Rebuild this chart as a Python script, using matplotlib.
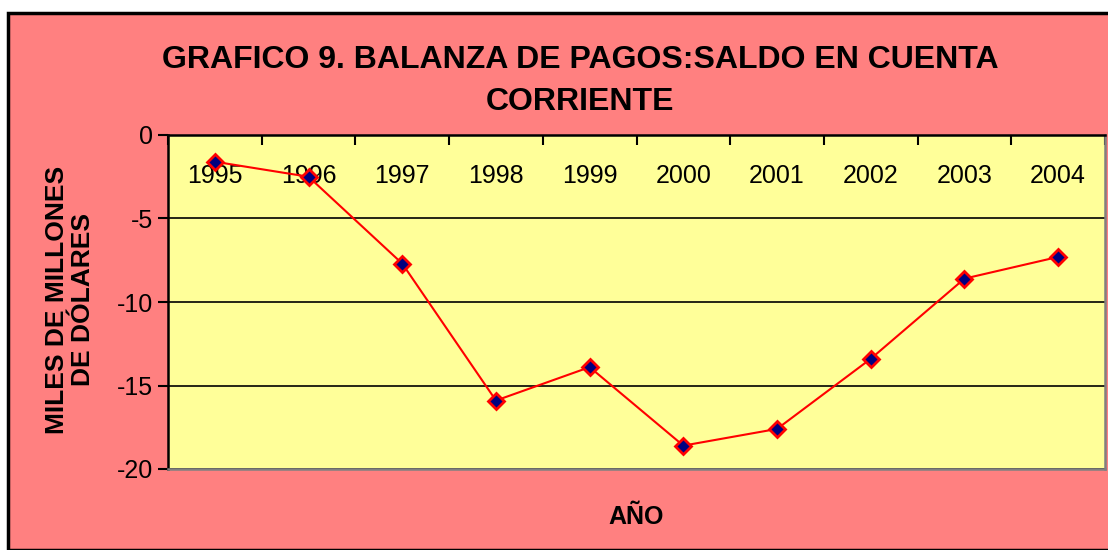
import matplotlib
matplotlib.use("Agg")
from matplotlib import pyplot as plt
from matplotlib.patches import Rectangle
import numpy as np

years = ['1995', '1996', '1997', '1998', '1999', '2000', '2001', '2002', '2003', '2004']
saldo = [-1.6, -2.5, -7.7, -15.9, -13.9, -18.6, -17.6, -13.4, -8.6, -7.3]
y_ticks = [0, -5, -10, -15, -20]

plt.rcParams['font.family'] = ['Liberation Sans', 'DejaVu Sans']

fig = plt.figure(figsize=(11.08, 5.5), dpi=100)
fig.patch.set_facecolor('white')
# chart area with black border
fig.patches.append(Rectangle((8 / 1108, 0), 1.2, 1 - 13 / 550, transform=fig.transFigure,
                             facecolor='#FF8080', edgecolor='black', linewidth=2.5, zorder=-10))

ax = fig.add_axes([168 / 1108, 81 / 550, 937 / 1108, 334 / 550])
ax.set_facecolor('#FFFF99')

x = np.arange(len(years))
ax.plot(x, saldo, color='red', linewidth=1.5, marker='D', markersize=8,
        markerfacecolor='#000080', markeredgecolor='red', markeredgewidth=2, zorder=3)

ax.set_ylim(-20, 0)
ax.set_xlim(-0.5, len(years) - 0.5)
ax.set_yticks(y_ticks)
ax.set_yticklabels([str(v) for v in y_ticks], fontsize=18)
ax.tick_params(axis='y', direction='out', length=7, width=1.5, pad=4)
ax.yaxis.grid(True, color='black', linewidth=1.2)
ax.set_axisbelow(True)

# category axis crosses at 0 (top), labels drawn inside
ax.xaxis.tick_top()
ax.set_xticks(x)
ax.set_xticklabels(years, fontsize=18)
ax.set_xticks(np.arange(len(years) + 1) - 0.5, minor=True)
ax.tick_params(axis='x', which='major', length=0, pad=-38)
ax.tick_params(axis='x', which='minor', direction='in', length=7, width=1.5)

for side in ['top', 'left']:
    ax.spines[side].set_color('black')
    ax.spines[side].set_linewidth(1.8)
for side in ['bottom', 'right']:
    ax.spines[side].set_color('#808080')
    ax.spines[side].set_linewidth(1.8)

fig.text(580 / 1108, 1 - 81 / 550, 'GRAFICO 9. BALANZA DE PAGOS:SALDO EN CUENTA\nCORRIENTE',
         ha='center', va='center', fontsize=23, fontweight='bold', linespacing=1.5)
fig.text(70 / 1108, 1 - 300 / 550, 'MILES DE MILLONES\nDE DÓLARES', rotation=90,
         ha='center', va='center', fontsize=19, fontweight='bold', linespacing=1.15)
fig.text(636 / 1108, 1 - 517 / 550, 'AÑO', ha='center', va='center', fontsize=18, fontweight='bold')

plt.savefig('out.png', dpi=100)
plt.close()
